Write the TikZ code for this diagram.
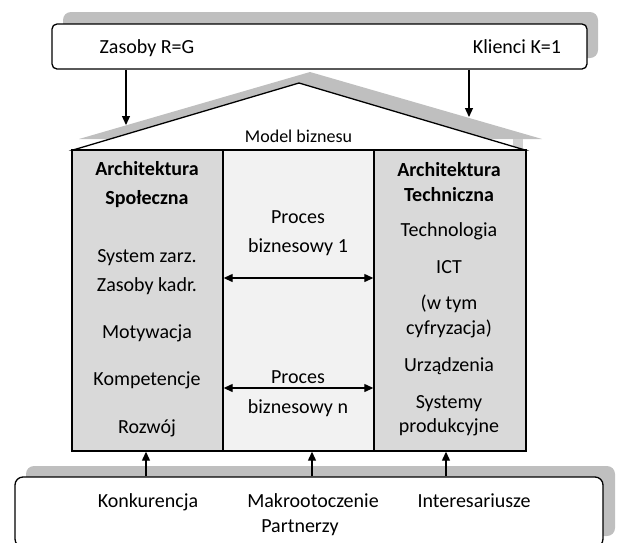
\documentclass[tikz,border=0pt]{standalone}
\usepackage{fontspec}
\setmainfont{Carlito}
\usetikzlibrary{arrows.meta}

\definecolor{shadowgray}{HTML}{BFBFBF}
\definecolor{lightshade}{HTML}{D0D0D0}
\definecolor{sidegray}{HTML}{D9D9D9}
\definecolor{midgray}{HTML}{F2F2F2}

\tikzset{
  frame/.style={draw=black, line width=1.3pt, rounded corners=5pt, fill=white, inner sep=0pt},
  backshade/.style={fill=shadowgray, rounded corners=8pt, inner sep=0pt},
  pillar/.style={draw=black, line width=1.4pt, inner sep=0pt, minimum height=301pt},
  lbl/.style={anchor=base, inner sep=0pt, font=\fontsize{20}{24}\selectfont},
  hdr/.style={lbl, font=\fontsize{20}{24}\selectfont\bfseries},
  arr/.style={line width=1.2pt, -{Triangle[length=9pt,width=8pt]}},
  dblarr/.style={line width=1.3pt, {Triangle[length=9pt,width=8pt]}-{Triangle[length=9pt,width=8pt]}},
}

\begin{document}
\begin{tikzpicture}[x=1pt,y=-1pt]
\useasboundingbox (0,0) rectangle (619,542);

% top bar with its shadow
\node[backshade, minimum width=535pt, minimum height=46pt] (topshade) at (330.5,35) {};
\node[frame, minimum width=535pt, minimum height=45pt] (top) at (319.5,46.5) {};
\node[lbl] (zasoby) at (147,53.5) {Zasoby R=G};
\node[lbl] (klienci) at (517,53.5) {Klienci K=1};

% roof with its shadow
\fill[shadowgray] (79,139) -- (310,72) -- (542,139) -- cycle;
\fill[lightshade] (513,139) rectangle (523,149);
\draw[line width=1.3pt, fill=white, line join=miter] (73,150) -- (299,83) -- (525,150) -- cycle;
\node[anchor=base, inner sep=0pt, font=\fontsize{18}{22}\selectfont] (model) at (298.5,142.5) {Model biznesu};

% three pillars
\node[pillar, fill=sidegray, minimum width=151pt] (colL) at (147.5,300.5) {};
\node[pillar, fill=midgray,  minimum width=151pt] (colM) at (298.5,300.5) {};
\node[pillar, fill=sidegray, minimum width=152pt] (colR) at (450,300.5) {};

% left pillar
\node[hdr] (l1) at (147,175.5) {Architektura};
\node[hdr] (l2) at (147,204.5) {Społeczna};
\node[lbl] (l3) at (147,262.5) {System zarz.};
\node[lbl] (l4) at (147,291.5) {Zasoby kadr.};
\node[lbl] (l5) at (147,338.5) {Motywacja};
\node[lbl] (l6) at (147,385.5) {Kompetencje};
\node[lbl] (l7) at (147,433.5) {Rozwój};

% middle pillar
\node[lbl] (m1) at (298,223.5) {Proces};
\node[lbl] (m2) at (298,252.5) {biznesowy 1};
\node[lbl] (m3) at (298,383.5) {Proces};
\node[lbl] (m4) at (298,413.5) {biznesowy n};

% right pillar
\node[hdr] (r1) at (449,176.5) {Architektura};
\node[hdr] (r2) at (449,201.5) {Techniczna};
\node[lbl] (r3) at (449,236.5) {Technologia};
\node[lbl] (r4) at (449,273.5) {ICT};
\node[lbl] (r5) at (449,309.5) {(w tym};
\node[lbl] (r6) at (449,334.5) {cyfryzacja)};
\node[lbl] (r7) at (449,371.5) {Urządzenia};
\node[lbl] (r8) at (449,408.5) {Systemy};
\node[lbl] (r9) at (449,432.5) {produkcyjne};

% process arrows across the middle pillar
\coordinate (p1) at (298,278);
\coordinate (pn) at (298,388);
\draw[dblarr] (colL.east |- p1) -- (colR.west |- p1);
\draw[dblarr] (colL.east |- pn) -- (colR.west |- pn);

% bottom bar with its shadow
\node[backshade, minimum width=589pt, minimum height=70pt] (botshade) at (320.5,501) {};
\node[frame, rounded corners=8pt, minimum width=588pt, minimum height=70pt] (bottom) at (309,512) {};
\node[lbl] (b1) at (148,507.5) {Konkurencja};
\node[lbl] (b2) at (313,507.5) {Makrootoczenie};
\node[lbl] (b3) at (474,507.5) {Interesariusze};
\node[lbl] (b4) at (300,532.5) {Partnerzy};

% arrows from the top bar onto the roof
\coordinate (roofL) at (126,125);
\coordinate (roofR) at (469,117);
\draw[arr] (top.south -| roofL) -- (roofL);
\draw[arr] (top.south -| roofR) -- (roofR);

% arrows from the bottom bar into the pillars
\coordinate (xL) at (146,0);
\coordinate (xM) at (312,0);
\coordinate (xR) at (446,0);
\draw[arr] (bottom.north -| xL) -- (colL.south -| xL);
\draw[arr] (bottom.north -| xM) -- (colM.south -| xM);
\draw[arr] (bottom.north -| xR) -- (colR.south -| xR);
\end{tikzpicture}
\end{document}
